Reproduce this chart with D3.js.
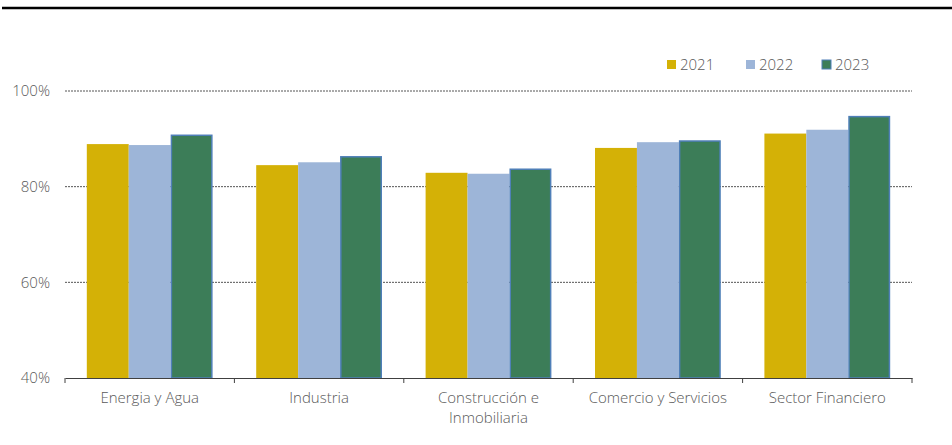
<!DOCTYPE html>
<html>
<head>
<meta charset="utf-8">
<script src="https://cdn.jsdelivr.net/npm/d3@7"></script>
<style>
  html, body { margin: 0; padding: 0; background: #fff; }
  svg text { font-family: "Open Sans", "Noto Sans", sans-serif; fill: #595959; font-weight: 300; }
</style>
</head>
<body>
<svg id="chart" width="952" height="445"></svg>
<script>
// Sector categories (label lines) and yearly percentages
const categories = ["Energia y Agua", "Industria", "Construcción e Inmobiliaria", "Comercio y Servicios", "Sector Financiero"];
const categoryLines = [["Energia y Agua"], ["Industria"], ["Construcción e", "Inmobiliaria"], ["Comercio y Servicios"], ["Sector Financiero"]];
const years = ["2021", "2022", "2023"];
const values2021 = [88.9, 84.5, 82.9, 88.1, 91.1];
const values2022 = [88.7, 85.1, 82.7, 89.3, 91.9];
const values2023 = [90.9, 86.4, 83.8, 89.7, 94.8];
const yTicks = [40, 60, 80, 100];

const seriesValues = [values2021, values2022, values2023];
const colors = ["#D4B106", "#9DB5D8", "#3C7D58"];

const svg = d3.select("#chart");
const margin = { left: 65, right: 40, top: 91, bottom: 67 };
const width = 952, height = 445;

const x = d3.scaleBand().domain(categories).range([margin.left, width - margin.right]).paddingInner(0).paddingOuter(0);
const xs = d3.scaleBand().domain(years).range([0, x.bandwidth()]).paddingInner(0).paddingOuter(0.52);
const y = d3.scaleLinear().domain([40, 100]).range([height - margin.bottom, margin.top]);

// Top rule
svg.append("line").attr("x1", 2).attr("x2", 952).attr("y1", 8).attr("y2", 8)
  .attr("stroke", "#000").attr("stroke-width", 2.5);

// Dashed gridlines
svg.append("g").selectAll("line").data(yTicks.filter(t => t > 40)).join("line")
  .attr("x1", margin.left).attr("x2", width - margin.right)
  .attr("y1", d => y(d)).attr("y2", d => y(d))
  .attr("stroke", "#555").attr("stroke-width", 1).attr("stroke-dasharray", "2,1");

// Y tick labels
svg.append("g").selectAll("text").data(yTicks).join("text")
  .attr("x", 50).attr("y", d => y(d)).attr("dy", "0.35em")
  .attr("text-anchor", "end").attr("font-size", 15)
  .text(d => d + "%");

// Bars
const rows = categories.map((c, i) => ({ c, vals: years.map((yr, j) => ({ yr, j, v: seriesValues[j][i] })) }));
const groups = svg.append("g").selectAll("g").data(rows).join("g")
  .attr("transform", d => `translate(${x(d.c)},0)`);
groups.selectAll("rect").data(d => d.vals).join("rect")
  .attr("x", d => xs(d.yr) + (d.j === 2 ? 0.75 : 0))
  .attr("width", d => xs.bandwidth() - (d.j === 2 ? 1.5 : 0))
  .attr("y", d => y(d.v) + (d.j === 2 ? 0.75 : 0))
  .attr("height", d => y(40) - y(d.v) - (d.j === 2 ? 0.75 : 0))
  .attr("fill", d => colors[d.j])
  .attr("stroke", d => d.j === 2 ? "#4F7FB8" : "none")
  .attr("stroke-width", 1.5);

// X axis baseline and ticks
const xAxis = d3.axisBottom(x).tickSize(0).tickFormat("");
const axisG = svg.append("g").attr("transform", `translate(0,${y(40)})`).call(xAxis);
axisG.select(".domain").attr("stroke", "#404040");
const boundaries = categories.map(c => x(c)).concat([x(categories[categories.length - 1]) + x.bandwidth()]);
svg.append("g").selectAll("line").data(boundaries).join("line")
  .attr("x1", d => d).attr("x2", d => d)
  .attr("y1", y(40)).attr("y2", y(40) + 5)
  .attr("stroke", "#404040").attr("stroke-width", 1);

// Category labels
const labels = svg.append("g").selectAll("text").data(categories).join("text")
  .attr("x", d => x(d) + x.bandwidth() / 2)
  .attr("y", 403).attr("text-anchor", "middle").attr("font-size", 15);
labels.selectAll("tspan").data((d, i) => categoryLines[i]).join("tspan")
  .attr("x", function() { return d3.select(this.parentNode).attr("x"); })
  .attr("dy", (d, i) => i === 0 ? 0 : 20)
  .text(d => d);

// Legend
const legendX = [667, 746, 822];
const legend = svg.append("g").selectAll("g").data(years).join("g")
  .attr("transform", (d, i) => `translate(${legendX[i]},60)`);
legend.append("rect").attr("width", 9).attr("height", 9)
  .attr("fill", (d, i) => colors[i])
  .attr("stroke", (d, i) => i === 2 ? "#4F7FB8" : "none").attr("stroke-width", 1);
legend.append("text").attr("x", 13).attr("y", 4.5).attr("dy", "0.35em")
  .attr("font-size", 15).text(d => d);
</script>
</body>
</html>
